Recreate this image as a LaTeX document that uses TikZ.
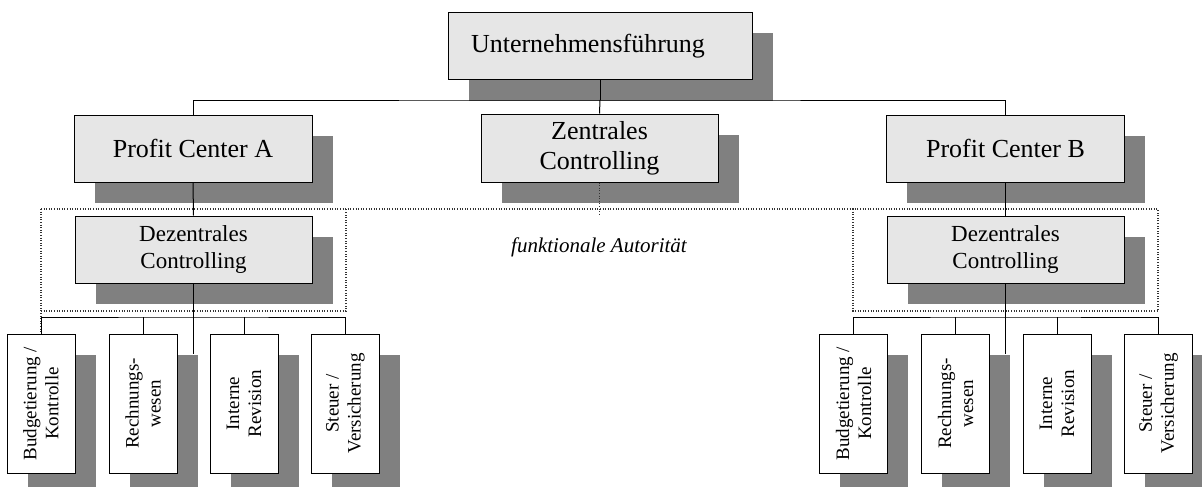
\documentclass[tikz,border=0pt]{standalone}
\usepackage{fontspec}
\setmainfont{Liberation Serif}
\usetikzlibrary{shadows}
\definecolor{boxfill}{HTML}{E6E6E6}
\definecolor{shadowgray}{HTML}{808080}
\definecolor{dotgray}{HTML}{333333}
\tikzset{
  box/.style={draw=black, fill=boxfill, line width=1pt, inner sep=0pt,
    general shadow={fill=shadowgray, shadow xshift=20.5pt, shadow yshift=-20.5pt}},
  bigbox/.style={box, minimum width=238pt, minimum height=67pt, align=center,
    font=\fontsize{26}{30}\selectfont},
  midbox/.style={box, minimum width=237pt, minimum height=67pt, align=center,
    font=\fontsize{23}{28}\selectfont},
  smallbox/.style={draw=black, fill=white, line width=1pt, inner sep=0pt,
    minimum width=68pt, minimum height=139pt,
    general shadow={fill=shadowgray, shadow xshift=20.5pt, shadow yshift=-20.5pt}},
  vlabel/.style={rotate=90, align=center, inner sep=0pt,
    font=\fontsize{19}{22}\selectfont},
  link/.style={draw=black, line width=1pt},
  authority/.style={draw=dotgray, line width=1.1pt, dash pattern=on 1pt off 1.6pt}
}
\begin{document}
\begin{tikzpicture}[x=1pt, y=-1pt]
\useasboundingbox (0,0) rectangle (1202,487);

% dotted frame of the functional authority
\draw[authority] (41,209) -- (1158,209);
\draw[authority] (41,209) -- (41,352);
\draw[authority] (41,311) -- (346,311) -- (346,209);
\draw[authority] (853,209) rectangle (1158,311);

% top management and first level
\node[box, minimum width=304pt, minimum height=67pt, text width=258pt, align=left,
  font=\fontsize{26}{30}\selectfont] (U) at (600,46.5) {Unternehmensführung};
\node[bigbox] (PA) at (193,148.5) {Profit Center A};
\node[bigbox, minimum width=237pt, minimum height=68pt] (Z) at (599.5,148) {Zentrales\\Controlling};
\node[bigbox] (PB) at (1005.5,148.5) {Profit Center B};

\coordinate (hub) at (600,100);
\draw[link] (U.south) -- (hub);
\draw[link] (PA.north) |- (hub) -| (PB.north);
\draw[link] (hub) -- (Z.north);
\draw[authority] (Z.south) -- ++(0,33);

% decentral controlling units
\node[midbox] (DA) at (193.5,249.5) {Dezentrales\\Controlling};
\node[midbox] (DB) at (1005.5,249.5) {Dezentrales\\Controlling};
\draw[link] (PA.south) -- (DA.north);
\draw[link] (PB.south) -- (DB.north);

\node[font=\fontsize{21}{24}\selectfont\itshape] (fa) at (599,247) {funktionale Autorität};

% departments below Profit Center A
\node[smallbox] (SA1) at (41,403.5) {};
\node[smallbox] (SA2) at (143,403.5) {};
\node[smallbox] (SA3) at (244,403.5) {};
\node[smallbox] (SA4) at (345.5,403.5) {};
\node[vlabel] (LA1) at (SA1) {Budgetierung /\\Kontrolle};
\node[vlabel] (LA2) at (SA2) {Rechnungs-\\wesen};
\node[vlabel] (LA3) at (SA3) {Interne\\Revision};
\node[vlabel] (LA4) at (SA4) {Steuer /\\Versicherung};

\coordinate (busA) at (193.5,317);
\coordinate (stemA) at (193.5,354);
\draw[link] (DA.south) -- (stemA);
\draw[link] (SA1.north) |- (busA) -| (SA4.north);
\draw[link] (SA2.north) -- (SA2.north |- busA);
\draw[link] (SA3.north) -- (SA3.north |- busA);

% departments below Profit Center B
\node[smallbox] (SB1) at (853.5,403.5) {};
\node[smallbox] (SB2) at (955.5,403.5) {};
\node[smallbox] (SB3) at (1057,403.5) {};
\node[smallbox] (SB4) at (1158.5,403.5) {};
\node[vlabel] (LB1) at (SB1) {Budgetierung /\\Kontrolle};
\node[vlabel] (LB2) at (SB2) {Rechnungs-\\wesen};
\node[vlabel] (LB3) at (SB3) {Interne\\Revision};
\node[vlabel] (LB4) at (SB4) {Steuer /\\Versicherung};

\coordinate (busB) at (1005.5,317);
\coordinate (stemB) at (1005.5,354);
\draw[link] (DB.south) -- (stemB);
\draw[link] (SB1.north) |- (busB) -| (SB4.north);
\draw[link] (SB2.north) -- (SB2.north |- busB);
\draw[link] (SB3.north) -- (SB3.north |- busB);
\end{tikzpicture}
\end{document}
